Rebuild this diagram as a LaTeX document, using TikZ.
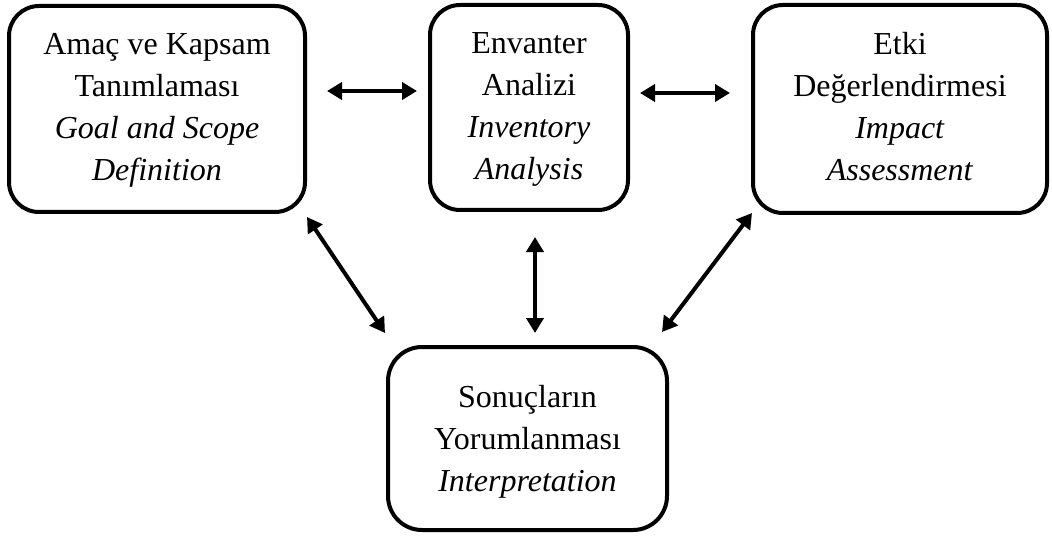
\documentclass[tikz,border=0pt]{standalone}
\usepackage{fontspec}
\setmainfont{Liberation Serif}
\usetikzlibrary{arrows.meta}
\newcommand{\topstrut}{\rule{0pt}{28pt}}
\newcommand{\botstrut}{\rule[-10pt]{0pt}{10pt}}
\newcommand{\botstrutb}{\rule[-7pt]{0pt}{7pt}}
\tikzset{
  stagebox/.style={draw=black, line width=4pt, rounded corners=30pt, align=center,
    inner sep=0pt, font=\fontsize{32pt}{42pt}\selectfont, text=black},
  link/.style={line width=4pt, {Triangle[length=15pt,width=17pt]}-{Triangle[length=15pt,width=17pt]}}
}
\begin{document}
\begin{tikzpicture}[x=1pt,y=-1pt]
\useasboundingbox (0,0) rectangle (1052,540);
\node[stagebox, minimum width=296pt, minimum height=206pt] (goal) at (157,109)
  {\topstrut Amaç ve Kapsam\\Tanımlaması\\\textit{Goal and Scope}\\\textit{Definition}\botstrut};
\node[stagebox, minimum width=198pt, minimum height=205pt] (inv) at (529,107.5)
  {\topstrut Envanter\\Analizi\\\textit{Inventory}\\\textit{Analysis}\botstrut};
\node[stagebox, minimum width=294pt, minimum height=208pt] (imp) at (900,109)
  {\topstrut Etki\\Değerlendirmesi\\\textit{Impact}\\\textit{Assessment}\botstrut};
\node[stagebox, minimum width=279pt, minimum height=183pt, rounded corners=34pt] (intp) at (527.5,438.5)
  {\topstrut Sonuçların\\Yorumlanması\\\textit{Interpretation}\botstrutb};
\coordinate (gi1) at (327,91);
\coordinate (gi2) at (417,91);
\coordinate (ii1) at (640,93);
\coordinate (ii2) at (730,93);
\coordinate (gp1) at (307,217);
\coordinate (gp2) at (385,333);
\coordinate (vp1) at (535,237);
\coordinate (vp2) at (535,333);
\coordinate (mp1) at (752,213);
\coordinate (mp2) at (662,332);
\draw[link] (gi1) -- (gi2);
\draw[link] (ii1) -- (ii2);
\draw[link] (gp1) -- (gp2);
\draw[link] (vp1) -- (vp2);
\draw[link] (mp1) -- (mp2);
\end{tikzpicture}
\end{document}
